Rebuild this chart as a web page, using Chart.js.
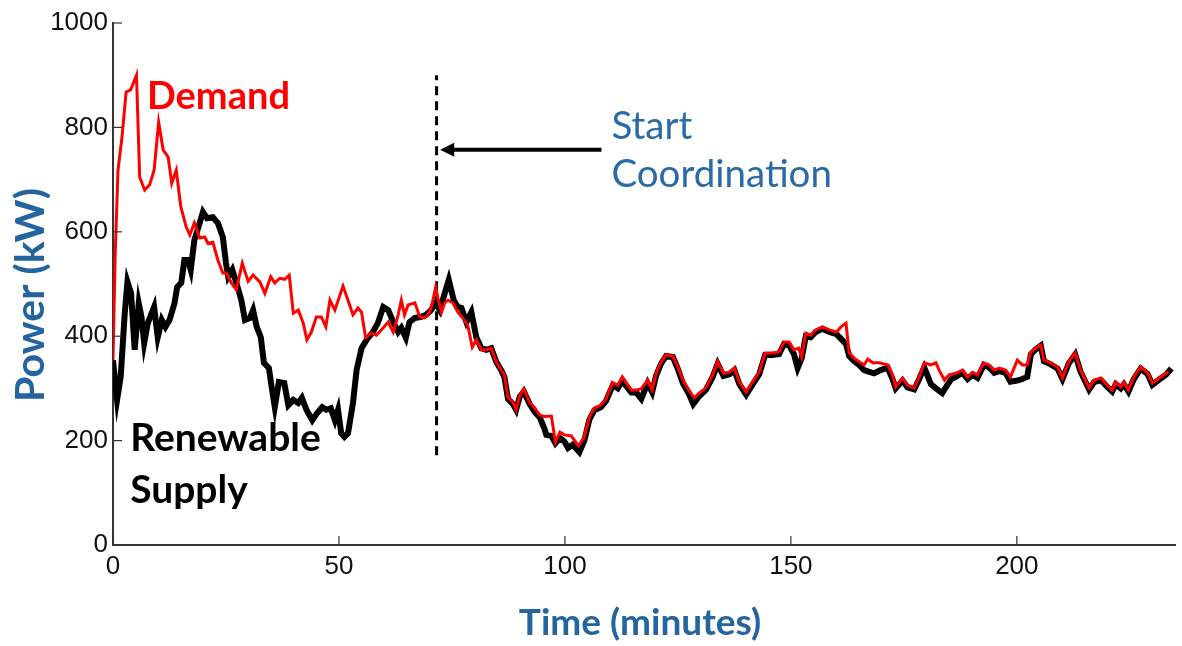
<!DOCTYPE html>
<html lang="en">
<head>
    <meta charset="UTF-8">
    <title>Demand vs Renewable Supply</title>
    <script src="https://cdn.jsdelivr.net/npm/chart.js"></script>
    <style>
        html, body { margin: 0; padding: 0; background: #fff; }
        #wrap { width: 1182px; height: 646px; position: relative; }
    </style>
</head>
<body>
    <div id="wrap"><canvas id="powerChart"></canvas></div>

    <script>
        // time (minutes) and power (kW)
        var demandTime = [0, 0.5, 1.1, 2.0, 2.9, 3.9, 5.2, 5.9, 7.0, 8.1, 9.1, 10.1, 11.1, 12.2, 13.0, 14.0, 15.0, 16.2, 17.0, 18.0,
            19.2, 20.3, 21.0, 22.1, 23.2, 24.3, 25.1, 26.2, 27.3, 28.6, 29.9, 31.0, 32.5, 33.6, 34.9, 35.8, 36.9, 38.0, 39.0, 39.9,
            41.0, 42.1, 42.9, 43.9, 45.0, 46.1, 47.1, 48.0, 49.1, 50.9, 52.0, 53.1, 54.2, 55.0, 55.9, 57.2, 58.3, 59.8, 60.9, 62.0,
            63.1, 63.8, 64.5, 65.3, 66.8, 67.9, 69.0, 70.1, 70.8, 71.4, 71.9, 72.7, 73.4, 74.1, 75.2, 76.3, 77.4, 78.5, 79.5, 80.4,
            81.5, 82.6, 83.7, 84.8, 85.9, 86.6, 87.4, 88.5, 89.2, 90.0, 90.9, 92.2, 93.3, 94.4, 95.5, 97.0, 97.9, 98.9, 99.9, 101.4,
            103.0, 104.3, 105.4, 106.5, 108.0, 109.1, 110.6, 111.7, 112.7, 113.5, 114.7, 115.8, 116.9, 118.3, 119.3, 120.2, 121.3, 122.4, 123.9, 125.0,
            126.1, 127.4, 128.6, 129.7, 131.2, 132.7, 133.8, 135.1, 136.4, 137.5, 138.6, 140.1, 141.5, 143.0, 144.3, 145.9, 147.4, 148.5, 149.6, 150.7,
            151.7, 152.4, 153.3, 154.4, 155.5, 157.0, 158.5, 160.1, 161.1, 162.2, 162.9, 164.0, 165.1, 166.2, 167.0, 168.1, 169.5, 171.4, 172.5, 173.2,
            174.7, 175.8, 177.3, 178.4, 179.5, 181.0, 182.1, 182.8, 184.0, 185.0, 186.5, 188.0, 189.1, 190.2, 191.3, 192.7, 193.9, 195.0, 196.1, 197.5,
            198.6, 200.1, 201.2, 202.3, 203.1, 204.2, 205.3, 206.0, 207.5, 209.0, 210.1, 211.5, 212.9, 214.1, 216.0, 217.1, 218.6, 220.0, 221.1, 221.9,
            223.0, 223.7, 224.7, 225.9, 227.4, 228.9, 230.0, 231.5, 233.0, 233.6];
        var demandKW = [355, 560, 718, 782, 868, 872, 900, 705, 680, 690, 718, 810, 757, 743, 693, 718, 648, 609, 594, 617,
            588, 590, 578, 580, 546, 521, 521, 502, 489, 540, 505, 517, 504, 482, 514, 502, 511, 509, 517, 444,
            450, 425, 393, 408, 437, 437, 418, 469, 450, 496, 469, 441, 454, 446, 397, 406, 402, 416, 427, 408,
            441, 469, 441, 460, 464, 437, 435, 446, 469, 494, 473, 446, 464, 469, 464, 446, 435, 421, 379, 393,
            374, 374, 377, 351, 335, 326, 283, 274, 259, 286, 299, 273, 263, 249, 246, 247, 197, 216, 211, 209,
            190, 207, 245, 262, 268, 280, 311, 306, 322, 312, 297, 297, 299, 316, 297, 329, 351, 364, 362, 341,
            316, 297, 282, 291, 301, 326, 351, 329, 331, 339, 312, 293, 312, 331, 368, 368, 370, 389, 389, 374,
            377, 360, 406, 402, 412, 418, 412, 408, 418, 425, 368, 358, 351, 345, 356, 349, 349, 345, 326, 303,
            320, 306, 301, 322, 349, 345, 349, 335, 316, 326, 329, 335, 322, 331, 326, 349, 345, 335, 339, 335,
            322, 354, 345, 345, 370, 377, 383, 354, 349, 341, 320, 351, 368, 335, 301, 316, 320, 306, 297, 312,
            303, 312, 297, 322, 341, 331, 310, 320, 329, 331];

        var supplyTime = [0, 0.9, 1.7, 2.6, 3.2, 4.0, 4.8, 5.7, 6.3, 6.9, 7.7, 9.1, 9.9, 10.8, 11.6, 12.5, 13.6, 14.2, 15.1, 15.8,
            16.6, 17.2, 18.0, 18.9, 19.9, 20.8, 22.1, 23.2, 24.3, 25.0, 25.5, 26.4, 27.3, 28.4, 29.2, 30.3, 31.0, 31.8, 32.7, 33.4,
            34.5, 35.1, 35.8, 36.7, 37.9, 38.8, 39.9, 41.0, 41.8, 42.8, 44.1, 45.2, 46.3, 47.2, 48.2, 49.1, 49.8, 50.5, 51.2, 52.0,
            53.1, 53.9, 55.0, 56.1, 57.5, 58.6, 59.8, 60.9, 62.0, 63.1, 63.8, 64.8, 65.6, 66.8, 68.2, 69.3, 70.4, 71.4, 72.3, 73.4,
            74.3, 75.4, 76.3, 77.1, 78.2, 79.3, 80.4, 81.5, 82.6, 83.7, 84.8, 85.9, 86.6, 87.4, 88.5, 89.2, 90.0, 90.9, 92.2, 93.3,
            94.4, 95.5, 95.9, 97.0, 97.9, 98.9, 99.9, 100.7, 101.7, 103.2, 104.3, 105.4, 106.5, 108.0, 109.1, 110.6, 111.7, 112.7, 113.5, 114.7,
            115.8, 116.9, 118.3, 119.3, 120.2, 121.3, 122.4, 123.9, 125.0, 126.1, 127.4, 128.4, 129.7, 131.2, 132.7, 133.8, 135.1, 136.4, 137.5, 138.6,
            140.1, 141.5, 143.0, 144.3, 145.9, 147.4, 148.5, 149.6, 150.7, 151.5, 152.4, 153.3, 154.4, 155.5, 157.0, 158.5, 160.1, 161.1, 162.2, 162.9,
            164.0, 165.1, 166.2, 167.2, 168.4, 169.9, 171.4, 172.5, 173.2, 174.7, 175.8, 177.3, 178.4, 179.5, 181.0, 182.1, 183.5, 184.5, 185.5, 186.5,
            188.0, 189.1, 190.2, 191.3, 192.7, 193.9, 195.0, 196.1, 197.5, 198.6, 200.1, 201.2, 202.3, 203.1, 204.2, 205.3, 206.0, 207.5, 209.0, 210.1,
            211.5, 212.9, 214.1, 216.0, 217.1, 218.6, 220.0, 221.1, 221.9, 223.0, 223.7, 224.7, 225.9, 227.4, 228.9, 230.0, 231.5, 233.0, 234.2];
        var supplyKW = [354, 278, 322, 444, 504, 482, 374, 463, 437, 387, 425, 456, 398, 431, 418, 431, 463, 494, 502, 546,
            546, 527, 584, 609, 638, 626, 628, 617, 590, 540, 514, 527, 502, 469, 431, 435, 450, 418, 398, 349,
            339, 303, 264, 312, 310, 268, 278, 272, 282, 259, 239, 253, 264, 259, 262, 239, 259, 214, 207, 214,
            272, 335, 377, 393, 408, 425, 456, 450, 427, 408, 416, 397, 427, 435, 437, 441, 450, 464, 450, 482,
            508, 469, 456, 454, 427, 446, 398, 377, 374, 377, 351, 335, 322, 280, 270, 259, 284, 294, 270, 255,
            245, 222, 211, 209, 195, 205, 198, 186, 192, 178, 200, 240, 258, 264, 276, 306, 300, 315, 305, 292,
            292, 280, 310, 293, 325, 348, 362, 360, 337, 310, 290, 270, 285, 297, 322, 347, 324, 327, 335, 308,
            288, 307, 327, 364, 364, 366, 385, 383, 365, 339, 358, 400, 398, 408, 414, 408, 404, 395, 385, 362,
            352, 345, 335, 332, 329, 335, 340, 318, 300, 315, 302, 298, 318, 340, 308, 300, 291, 305, 318, 322,
            330, 318, 326, 320, 345, 340, 330, 333, 330, 313, 315, 318, 322, 365, 375, 382, 352, 346, 338, 318,
            348, 365, 332, 298, 312, 316, 303, 294, 308, 300, 308, 294, 318, 338, 328, 307, 317, 326, 338];

        var startTime = 71.6;        // start coordination marker
        var markerKW = [172, 900];   // vertical extent of dashed marker

        var blue = '#24649f';
        var tickFont = { family: 'Liberation Sans', size: 26 };

        function toPoints(ts, vs) {
            return ts.map(function(t, i) { return { x: t, y: vs[i] }; });
        }

        // inward tick marks + text annotations
        var decorations = {
            id: 'decorations',
            afterDraw: function(chart) {
                var ctx = chart.ctx, xs = chart.scales.x, ys = chart.scales.y, area = chart.chartArea;
                ctx.save();
                ctx.strokeStyle = '#333';
                ctx.lineWidth = 1.2;
                ys.ticks.forEach(function(t) {
                    var y = ys.getPixelForValue(t.value);
                    ctx.beginPath(); ctx.moveTo(area.left, y); ctx.lineTo(area.left + 9, y); ctx.stroke();
                });
                xs.ticks.forEach(function(t) {
                    var x = xs.getPixelForValue(t.value);
                    ctx.beginPath(); ctx.moveTo(x, area.bottom); ctx.lineTo(x, area.bottom - 9); ctx.stroke();
                });

                // arrow to the marker
                var ay = ys.getPixelForValue(757);
                var ax0 = xs.getPixelForValue(108.1), ax1 = xs.getPixelForValue(72.4);
                ctx.strokeStyle = '#000';
                ctx.fillStyle = '#000';
                ctx.lineWidth = 4;
                ctx.beginPath(); ctx.moveTo(ax0, ay); ctx.lineTo(ax1 + 8, ay); ctx.stroke();
                ctx.beginPath();
                ctx.moveTo(ax1, ay); ctx.lineTo(ax1 + 14, ay - 7); ctx.lineTo(ax1 + 14, ay + 7); ctx.closePath(); ctx.fill();

                ctx.textBaseline = 'middle';
                ctx.textAlign = 'left';
                ctx.font = 'bold 38px Lato';
                ctx.fillStyle = '#ff0000';
                ctx.fillText('Demand', xs.getPixelForValue(7.5), ys.getPixelForValue(858));
                ctx.font = 'bold 39px Lato';
                ctx.fillStyle = '#000';
                ctx.fillText('Renewable', xs.getPixelForValue(3.8), ys.getPixelForValue(205));
                ctx.fillText('Supply', xs.getPixelForValue(3.8), ys.getPixelForValue(105));

                ctx.font = '38.5px Lato';
                ctx.fillStyle = '#2a6aa6';
                ctx.fillText('Start', xs.getPixelForValue(110.3), ys.getPixelForValue(801));
                ctx.fillText('Coordination', xs.getPixelForValue(110.3), ys.getPixelForValue(709));

                // axis titles
                ctx.fillStyle = blue;
                ctx.font = 'bold 37px Lato';
                ctx.textAlign = 'center';
                ctx.fillText('Time (minutes)', 640, 623);
                ctx.font = 'bold 41px Lato';
                ctx.translate(31, 295);
                ctx.rotate(-Math.PI / 2);
                ctx.fillText('Power (kW)', 0, 0);
                ctx.restore();
            }
        };

        var ctx = document.getElementById('powerChart').getContext('2d');
        var powerChart = new Chart(ctx, {
            type: 'line',
            data: {
                datasets: [{
                    label: 'Demand',
                    data: toPoints(demandTime, demandKW),
                    borderColor: '#ff0000',
                    borderWidth: 3,
                    pointRadius: 0,
                    tension: 0,
                    order: 0
                }, {
                    label: 'Renewable Supply',
                    data: toPoints(supplyTime, supplyKW),
                    borderColor: '#000000',
                    borderWidth: 6,
                    pointRadius: 0,
                    tension: 0,
                    order: 1
                }, {
                    label: 'Start Coordination',
                    data: markerKW.map(function(v) { return { x: startTime, y: v }; }),
                    borderColor: '#000000',
                    borderWidth: 3,
                    borderDash: [9, 6],
                    pointRadius: 0,
                    order: 2
                }]
            },
            options: {
                responsive: true,
                maintainAspectRatio: false,
                animation: false,
                layout: { padding: { top: 23, right: 7, left: 0, bottom: 0 } },
                plugins: { legend: { display: false }, tooltip: { enabled: false } },
                scales: {
                    x: {
                        type: 'linear',
                        min: 0,
                        max: 235,
                        afterFit: function(s) { s.height = 101; },
                        border: { color: '#333', width: 2 },
                        grid: { drawOnChartArea: false, drawTicks: false },
                        ticks: {
                            stepSize: 50,
                            includeBounds: false,
                            padding: 6,
                            color: '#111',
                            font: tickFont,
                            callback: function(v) { return String(v); }
                        }
                    },
                    y: {
                        min: 0,
                        max: 1000,
                        afterFit: function(s) { s.width = 113; },
                        border: { color: '#333', width: 2 },
                        grid: { drawOnChartArea: false, drawTicks: false },
                        ticks: {
                            stepSize: 200,
                            padding: 5,
                            color: '#111',
                            font: tickFont,
                            callback: function(v) { return String(v); }
                        }
                    }
                }
            },
            plugins: [decorations]
        });
    </script>
</body>
</html>
